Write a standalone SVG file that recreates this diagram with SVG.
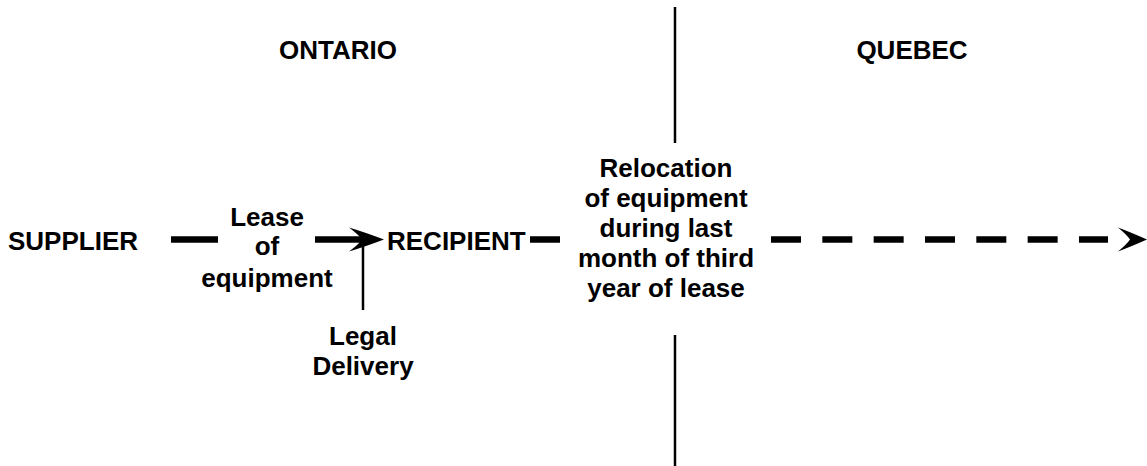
<svg xmlns="http://www.w3.org/2000/svg" width="1147" height="466" viewBox="0 0 1147 466">
  <style>
    text { font-family: "Liberation Sans", Arial, sans-serif; font-weight: bold; font-size: 26px; fill: #000; }
    .mid { text-anchor: middle; }
    .thick { stroke: #000; stroke-width: 6.5; fill: none; }
    .thin { stroke: #000; stroke-width: 2.5; fill: none; }
    .head { fill: #000; stroke: none; }
  </style>
  <rect width="1147" height="466" fill="#fff"/>

  <!-- provinces, each label centred over its side of the border -->
  <g id="ontario"><text class="mid" x="338" y="59">ONTARIO</text></g>
  <g id="quebec"><text class="mid" x="912" y="59">QUEBEC</text></g>

  <!-- border between provinces -->
  <g id="border">
    <line class="thin" x1="675" y1="7" x2="675" y2="143"/>
    <line class="thin" x1="675" y1="335" x2="675" y2="466"/>
  </g>

  <g id="supplier"><text x="8" y="250">SUPPLIER</text></g>
  <g id="lease">
    <text class="mid" x="267" y="226">Lease</text>
    <text class="mid" x="267" y="255">of</text>
    <text class="mid" x="267" y="287">equipment</text>
  </g>
  <g id="recipient"><text x="387" y="250">RECIPIENT</text></g>
  <g id="legal-delivery">
    <text class="mid" x="363" y="345">Legal</text>
    <text class="mid" x="363" y="375">Delivery</text>
  </g>
  <g id="relocation">
    <text class="mid" x="666" y="177">Relocation</text>
    <text class="mid" x="666" y="207">of equipment</text>
    <text class="mid" x="666" y="237">during last</text>
    <text class="mid" x="666" y="267">month of third</text>
    <text class="mid" x="666" y="297">year of lease</text>
  </g>

  <g id="connectors">
    <line class="thick" x1="171" y1="239.5" x2="218" y2="239.5"/>
    <line class="thick" x1="315" y1="239.5" x2="362" y2="239.5"/>
    <path class="head" d="M384,239.5 Q364,232 349,227.5 Q359,235 362,239.5 Q359,244 349,251.5 Q364,247 384,239.5 Z"/>
    <line class="thin" x1="363" y1="244" x2="363" y2="310"/>
    <line class="thick" x1="530" y1="239.5" x2="560" y2="239.5"/>
    <line class="thick" x1="771" y1="239.5" x2="1108" y2="239.5" stroke-dasharray="30 21.33"/>
    <path class="head" d="M1147,239.5 Q1130,232 1118,227.5 Q1127,235 1130,239.5 Q1127,244 1118,251.5 Q1130,247 1147,239.5 Z"/>
  </g>
</svg>
